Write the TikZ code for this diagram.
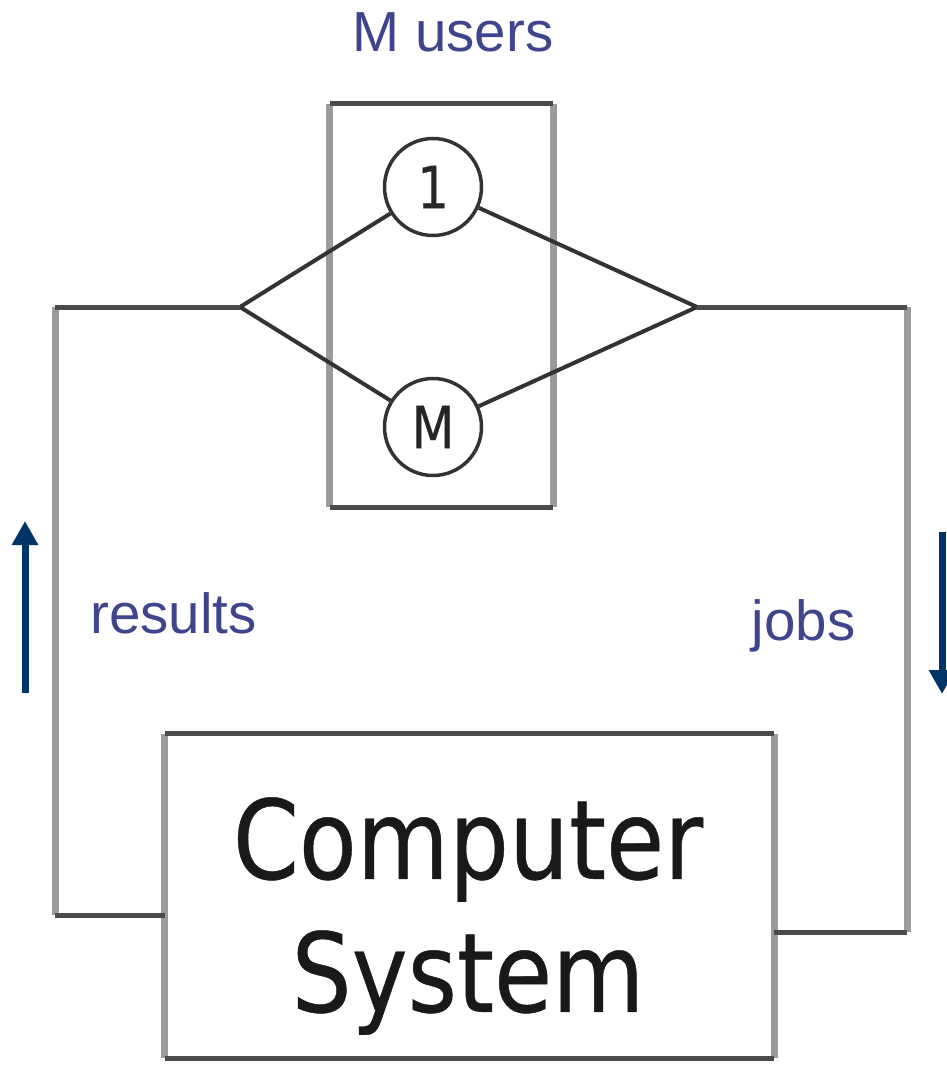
\documentclass[tikz,border=0pt]{standalone}
\usepackage{fontspec}
\setmainfont{Liberation Sans}
\newfontfamily\tahomaish[FakeStretch=0.86,FakeBold=0.4]{DejaVu Sans}
\usetikzlibrary{arrows.meta}
\definecolor{lbl}{RGB}{63,69,140}
\definecolor{navy}{RGB}{0,51,102}
\definecolor{vgray}{RGB}{155,155,155}
\definecolor{hgray}{RGB}{75,75,75}
\begin{document}
\begin{tikzpicture}[x=1pt,y=-1pt,
  vline/.style={draw=vgray, line width=7pt},
  hline/.style={draw=hgray, line width=5pt},
  diag/.style={draw=black!80, line width=4pt},
  boxarea/.style={draw=none, inner sep=0pt},
  user/.style={circle, draw=black!80, line width=3.5pt, minimum size=97pt, inner sep=0pt,
    font=\tahomaish\fontsize{58}{58}\selectfont, text=black!85},
  lbltext/.style={text=lbl, font=\fontsize{56.5}{56.5}\selectfont, inner sep=0pt},
  cstext/.style={text=black!90, font=\tahomaish\fontsize{110}{133}\selectfont, align=center, inner sep=0pt},
  flow/.style={draw=navy, line width=7pt, -{Triangle[width=25pt,length=24pt]}}
]
\useasboundingbox (0,0) rectangle (947,1065);

% users box
\node[boxarea, minimum width=223pt, minimum height=403pt] (ub) at (441.5,305.5) {};
\draw[vline] (ub.north west) -- (ub.south west);
\draw[vline] (ub.north east) -- (ub.south east);
\draw[hline] (ub.north west) -- (ub.north east);
\draw[hline] (ub.south west) -- (ub.south east);

% computer system box
\node[boxarea, minimum width=609pt, minimum height=324pt] (cs) at (469.5,896) {};
\draw[vline] (cs.north west) -- (cs.south west);
\draw[vline] (cs.north east) -- (cs.south east);
\draw[hline] (cs.north west) -- (cs.north east);
\draw[hline] (cs.south west) -- (cs.south east);
\node[cstext] (cst) at (468,916) {Computer\\System};

% users
\node[user] (u1) at (433,187) {1};
\node[user] (uM) at (433,427) {M};
\coordinate (jl) at (240,307);
\coordinate (jr) at (697,307);
\draw[diag] (jl) -- (u1);
\draw[diag] (jl) -- (uM);
\draw[diag] (u1) -- (jr);
\draw[diag] (uM) -- (jr);

% loop
\coordinate (lt) at (55,307);
\coordinate (lb) at (55,915);
\draw[vline] (lt) -- (lb);
\draw[hline] (jl) -- (lt);
\draw[hline] (lb) -- (cs.west |- lb);
\coordinate (rt) at (907,307);
\coordinate (rb) at (907,932);
\draw[vline] (rt) -- (rb);
\draw[hline] (jr) -- (rt);
\draw[hline] (rb) -- (cs.east |- rb);

% flow arrows
\coordinate (a1s) at (25,693);
\coordinate (a1e) at (25,521);
\draw[flow] (a1s) -- (a1e);
\coordinate (a2s) at (942,532);
\coordinate (a2e) at (942,694);
\draw[flow] (a2s) -- (a2e);

% labels
\node[lbltext, anchor=base] (mu) at (453,52) {M users};
\node[lbltext, anchor=base] (res) at (173.5,633) {results};
\node[lbltext, anchor=base] (jobs) at (803.5,640) {jobs};
\end{tikzpicture}
\end{document}
